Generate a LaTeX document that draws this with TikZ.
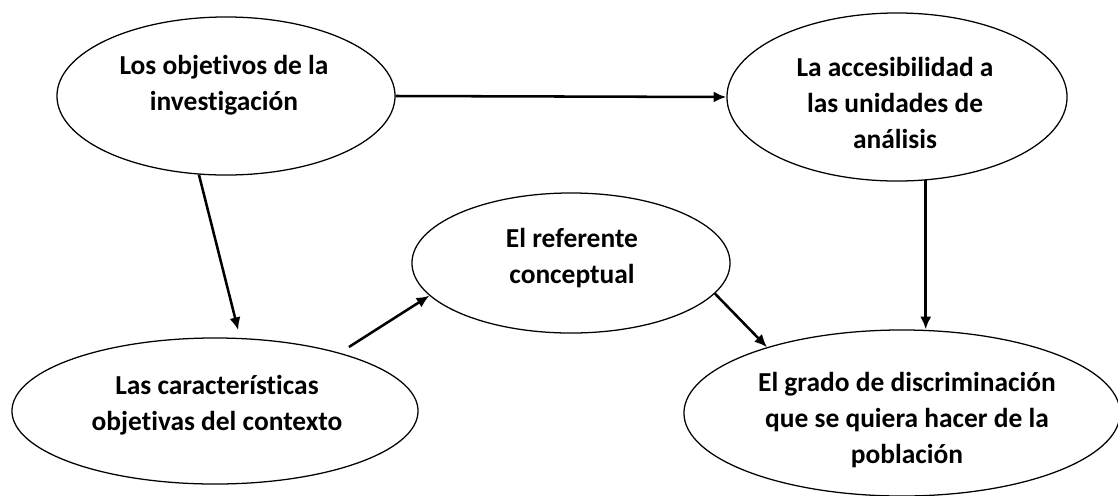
\documentclass[tikz,border=0pt]{standalone}
\usepackage{fontspec}
\setmainfont{Carlito}[Ligatures=NoCommon]
\usetikzlibrary{shapes.geometric}
\usetikzlibrary{arrows.meta}

\begin{document}
\begin{tikzpicture}[x=0.025cm,y=-0.025cm,every node/.style={inner sep=0pt}]
	
	
	\tikzstyle{oval}=[ellipse,draw=black,line width=0.9pt,fill=white]
	\tikzstyle{txt}=[align=center,font=\fontsize{19.5}{25.5}\selectfont\bfseries]
	\tikzstyle{link}=[-{Latex[length=0.32cm,width=0.28cm]},line width=1.8pt]
	
		\useasboundingbox (0,0) rectangle (1118,495);
		
		\node [oval,minimum width=8.45cm,minimum height=3.95cm] (obj) at (226,96) {};
		\node [txt] (obj-t) at (224,85) {Los objetivos de la\\investigación};
		\node [oval,minimum width=8.5cm,minimum height=4.2cm] (acc) at (897,97) {};
		\node [txt] (acc-t) at (895,103) {La accesibilidad a\\las unidades de\\análisis};
		\node [oval,minimum width=7.95cm,minimum height=3.5cm] (ref) at (571,263) {};
		\node [txt] (ref-t) at (572,258) {El referente\\conceptual};
		\node [oval,minimum width=10.15cm,minimum height=3.65cm] (car) at (215,411) {};
		\node [txt] (car-t) at (217,405) {Las características\\objetivas del contexto};
		\node [oval,minimum width=10.9cm,minimum height=4.15cm] (gra) at (902,413) {};
		\node [txt] (gra-t) at (907,420) {El grado de discriminación\\que se quiera hacer de la\\población};
		
		\draw[link] (obj.east) -- (acc.west);
		\draw[link,shorten >=0.2cm] (obj.-109.5) -- (car.71);
		\draw[link,shorten <=0.27cm] (car.25) -- (ref.-167);
		\draw[link] (ref.-12) -- (gra.154);
		\draw[link] (acc.-71) -- (acc.-71 |- gra.north);
	
	\end{tikzpicture}
\end{document}
